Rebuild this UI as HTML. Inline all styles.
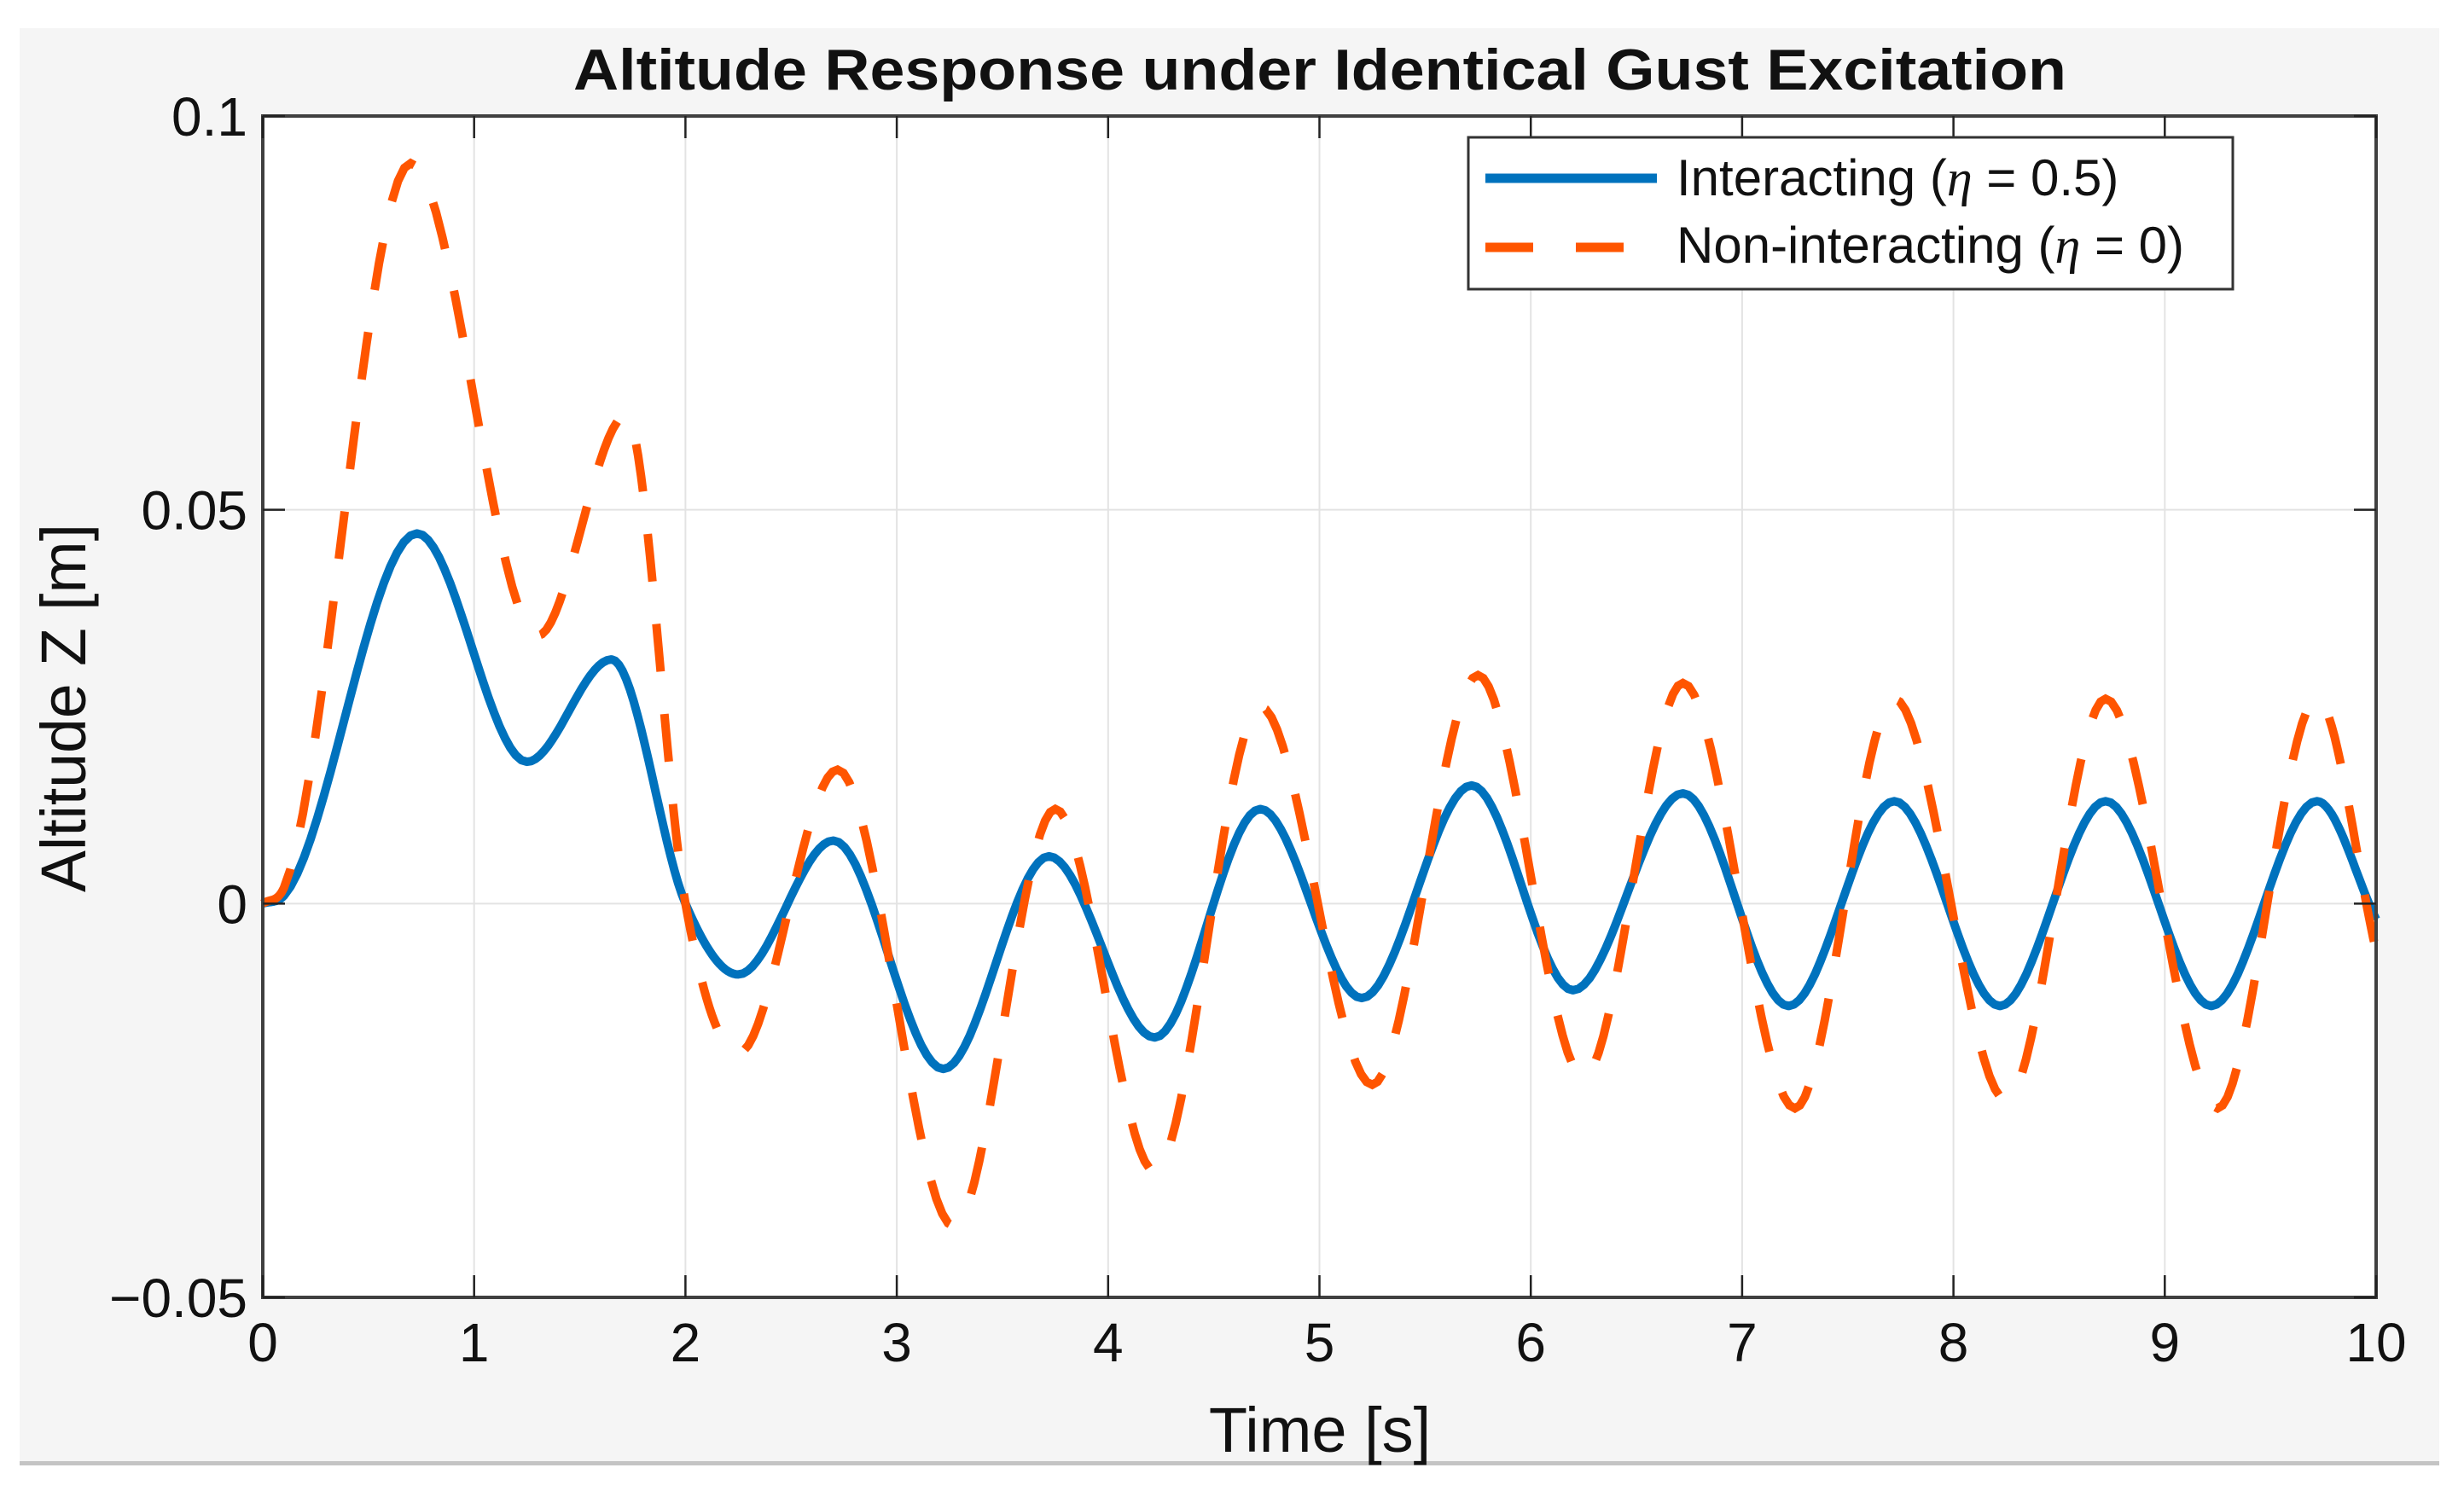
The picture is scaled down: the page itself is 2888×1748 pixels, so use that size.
<!DOCTYPE html>
<html><head><meta charset="utf-8"><style>
html,body{margin:0;padding:0;background:#fff;}
svg{display:block;font-family:"Liberation Sans",Arial,sans-serif;}
</style></head><body>
<svg id="chart" width="2888" height="1748" viewBox="0 0 2888 1748" xmlns="http://www.w3.org/2000/svg">
<rect x="23" y="33" width="2836" height="1682" fill="#f5f5f5"/>
<rect x="23" y="1713" width="2836" height="5" fill="#c4c4c4"/>
<rect x="308" y="136" width="2477" height="1385" fill="#ffffff"/>
<g id="grid"></g>
<g id="series"></g>
<rect x="308" y="136" width="2477" height="1385" fill="none" stroke="#404040" stroke-width="4"/>
<g id="ticks"></g>
<text x="1547" y="105" text-anchor="middle" font-size="68" font-weight="bold" fill="#111" textLength="1750" lengthAdjust="spacingAndGlyphs">Altitude Response under Identical Gust Excitation</text>
<text x="1547" y="1702" text-anchor="middle" font-size="74" fill="#111">Time [s]</text>
<text transform="translate(100,830) rotate(-90)" text-anchor="middle" font-size="74" fill="#111" textLength="432" lengthAdjust="spacingAndGlyphs">Altitude Z [m]</text>
<g>
<rect x="1721" y="161" width="896" height="178" fill="#fff" stroke="#333" stroke-width="3"/>
<line x1="1741" y1="209" x2="1942" y2="209" stroke="#0072BD" stroke-width="11"/>
<line x1="1741" y1="290" x2="1942" y2="290" stroke="#FF5500" stroke-width="11" stroke-dasharray="56 50"/>
<text x="1965" y="229" font-size="60" fill="#111">Interacting (<tspan font-style="italic" font-family="Liberation Serif, serif">η</tspan> = 0.5)</text>
<text x="1965" y="308" font-size="60" fill="#111">Non-interacting (<tspan font-style="italic" font-family="Liberation Serif, serif">η</tspan> = 0)</text>
</g>
</svg>
<script>
const xTicks = [0,1,2,3,4,5,6,7,8,9,10];
const yTicks = [-0.05,0,0.05,0.1];
const yTickLabels = ["\u22120.05","0","0.05","0.1"];
const timeInteracting = [0,0.1,0.73,1.25,1.65,2.0,2.25,2.7,3.22,3.72,4.22,4.72,5.2,5.72,6.2,6.72,7.22,7.72,8.22,8.72,9.22,9.72,10];
const zInteracting = [0,0.001,0.047,0.018,0.031,0,-0.009,0.008,-0.021,0.006,-0.017,0.012,-0.012,0.015,-0.011,0.014,-0.013,0.013,-0.013,0.013,-0.013,0.013,-0.002];
const timeNonInteracting = [0,0.1,0.7,1.3,1.72,2.0,2.25,2.72,3.27,3.75,4.22,4.72,5.25,5.75,6.25,6.72,7.25,7.72,8.25,8.72,9.25,9.72,10];
const zNonInteracting = [0,0.002,0.094,0.034,0.062,0,-0.019,0.017,-0.041,0.012,-0.034,0.025,-0.023,0.029,-0.022,0.028,-0.026,0.026,-0.025,0.026,-0.026,0.026,-0.006];

const X0=308,X1=2785,Y0=1521,Y1=136;
const xS=t=>X0+(t-0)/(10-0)*(X1-X0);
const yS=v=>Y0-(v-(-0.05))/(0.15)*(Y0-Y1);
const NS="http://www.w3.org/2000/svg";
const grid=document.getElementById('grid'),ticks=document.getElementById('ticks'),series=document.getElementById('series');
function mk(tag,attrs,parent){const e=document.createElementNS(NS,tag);for(const k in attrs)e.setAttribute(k,attrs[k]);parent.appendChild(e);return e;}

xTicks.forEach(t=>{
  const x=xS(t);
  if(t>0&&t<10){const g=mk('line',{x1:x,y1:Y1,x2:x,y2:Y0,stroke:'#e3e3e3','stroke-width':2},grid);
    
    }
  const a=mk('line',{x1:x,y1:Y0,x2:x,y2:Y0-26,stroke:'#222','stroke-width':2.5},ticks);
  
  
  const b=mk('line',{x1:x,y1:Y1,x2:x,y2:Y1+26,stroke:'#222','stroke-width':2.5},ticks);
  
  
  const l=mk('text',{x:x,y:1596,'text-anchor':'middle','font-size':64,fill:'#111'},ticks);
  l.textContent=String(t);
  
  
});
yTicks.forEach((v,i)=>{
  const y=yS(v);
  if(i>0&&i<yTicks.length-1){const g=mk('line',{x1:X0,y1:y,x2:X1,y2:y,stroke:'#e3e3e3','stroke-width':2},grid);
    
    }
  const a=mk('line',{x1:X0,y1:y,x2:X0+26,y2:y,stroke:'#222','stroke-width':2.5},ticks);
  
  
  const b=mk('line',{x1:X1,y1:y,x2:X1-26,y2:y,stroke:'#222','stroke-width':2.5},ticks);
  
  
  const l=mk('text',{x:X0-18,y:y+23,'text-anchor':'end','font-size':64,fill:'#111'},ticks);
  l.textContent=yTickLabels[i];
  
  
});

function monotonePath(ts,vs){
  const n=ts.length,d=[],m=new Array(n);
  for(let i=0;i<n-1;i++)d.push((vs[i+1]-vs[i])/(ts[i+1]-ts[i]));
  m[0]=d[0];m[n-1]=d[n-2];
  for(let i=1;i<n-1;i++){m[i]=(d[i-1]*d[i]<=0)?0:(2/(1/d[i-1]+1/d[i]))*0+ (d[i-1]+d[i])/2;
    if(d[i-1]*d[i]>0){const a=m[i]/d[i-1],b=m[i]/d[i],s=a*a+b*b;if(s>9){const tt=3/Math.sqrt(s);m[i]=tt*(d[i-1]+d[i])/2;}}}
  let p='';
  for(let i=0;i<n-1;i++){
    const h=ts[i+1]-ts[i];
    for(let k=0;k<=20;k++){
      if(i>0&&k===0)continue;
      const s=k/20,h00=2*s*s*s-3*s*s+1,h10=s*s*s-2*s*s+s,h01=-2*s*s*s+3*s*s,h11=s*s*s-s*s;
      const t=ts[i]+s*h,v=h00*vs[i]+h10*h*m[i]+h01*vs[i+1]+h11*h*m[i+1];
      p+=(p?'L':'M')+xS(t).toFixed(1)+','+yS(v).toFixed(1);
    }
  }
  return p;
}
const pB=mk('path',{d:monotonePath(timeInteracting,zInteracting),fill:'none',stroke:'#0072BD','stroke-width':10,'stroke-linejoin':'round'},series);


const pO=mk('path',{d:monotonePath(timeNonInteracting,zNonInteracting),fill:'none',stroke:'#FF5500','stroke-width':10,'stroke-dasharray':'56 50'},series);


</script>
</body></html>
